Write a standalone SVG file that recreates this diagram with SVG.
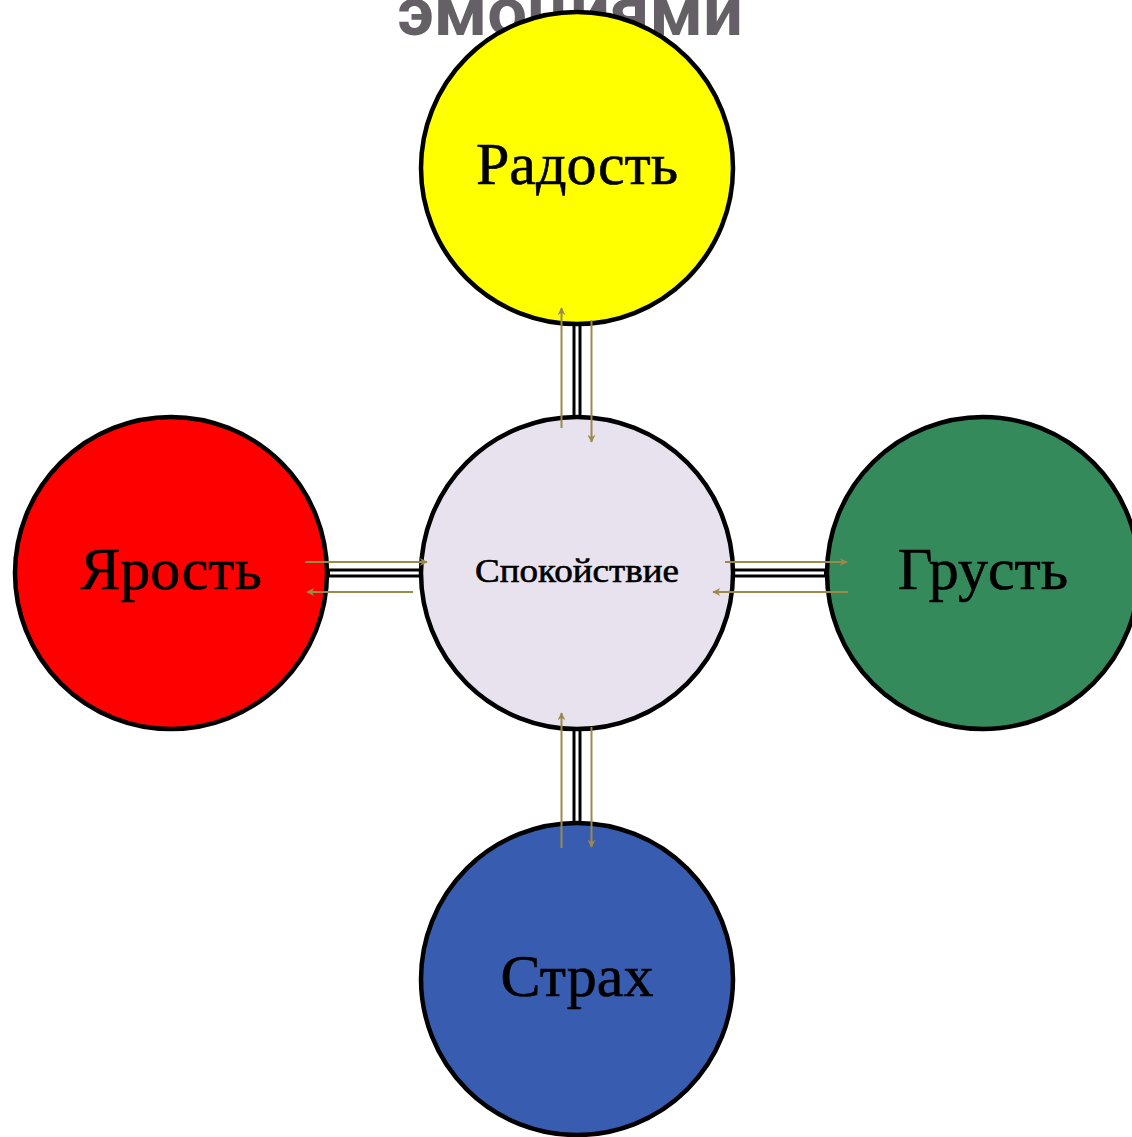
<svg xmlns="http://www.w3.org/2000/svg" width="1132" height="1137" viewBox="0 0 1132 1137">
<defs>
<style>
.node circle{stroke:#000;stroke-width:4.5}
.lbl{font-family:"Liberation Serif","DejaVu Serif",serif;fill:#000;text-anchor:middle;stroke:#000;stroke-width:0.6}
.big{font-size:60px}
.link-o{stroke:#000;stroke-width:9;fill:none}
.link-i{stroke:#fff;stroke-width:3;fill:none}
.arr{stroke:#9b8a4a;stroke-width:2;fill:none;marker-end:url(#ah)}
</style>
<marker id="ah" viewBox="0 0 10 10" refX="9" refY="5" markerWidth="9" markerHeight="8" markerUnits="userSpaceOnUse" orient="auto">
<path d="M0,0 L10,5 L0,10 L3,5 Z" fill="#9b8a4a"/>
</marker>
</defs>
<rect width="1132" height="1137" fill="#fff"/>
<text id="title" x="570" y="35" font-family="Roboto,'Liberation Sans',sans-serif" font-weight="bold" font-size="68" fill="#646066" text-anchor="middle" textLength="346" lengthAdjust="spacingAndGlyphs">эмоциями</text>
<g id="connectors">
<path class="link-o" d="M577,322 V419 M577,727 V825 M326,573 H423 M731,573 H828"/>
<path class="link-i" d="M577,326 V415 M577,731 V821 M330,573 H419 M735,573 H824"/>
</g>
<g id="joy" class="node"><circle cx="577" cy="168" r="156" fill="#ffff00"/><text class="lbl big" x="577" y="184">Радость</text></g>
<g id="calm" class="node"><circle cx="577" cy="573" r="156" fill="#e8e2ef"/><text class="lbl" x="577" y="582" font-size="34" textLength="204" lengthAdjust="spacingAndGlyphs" stroke-width="0.3">Спокойствие</text></g>
<g id="rage" class="node"><circle cx="171" cy="573" r="156" fill="#ff0000"/><text class="lbl big" x="171" y="589">Ярость</text></g>
<g id="sad" class="node"><circle cx="983" cy="573" r="156" fill="#358a5c"/><text class="lbl big" x="983" y="589">Грусть</text></g>
<g id="fear" class="node"><circle cx="577" cy="979" r="156" fill="#385cb0"/><text class="lbl big" x="577" y="996">Страх</text></g>
<g id="arrows">
<line class="arr" x1="561.5" y1="428" x2="561.5" y2="308"/>
<line class="arr" x1="591.5" y1="320" x2="591.5" y2="442"/>
<line class="arr" x1="561.5" y1="848" x2="561.5" y2="713"/>
<line class="arr" x1="591.5" y1="727" x2="591.5" y2="847"/>
<line class="arr" x1="305" y1="562" x2="427" y2="562"/>
<line class="arr" x1="413" y1="592" x2="307" y2="592"/>
<line class="arr" x1="725" y1="562" x2="847" y2="562"/>
<line class="arr" x1="848" y1="592" x2="713" y2="592"/>
</g>
</svg>
